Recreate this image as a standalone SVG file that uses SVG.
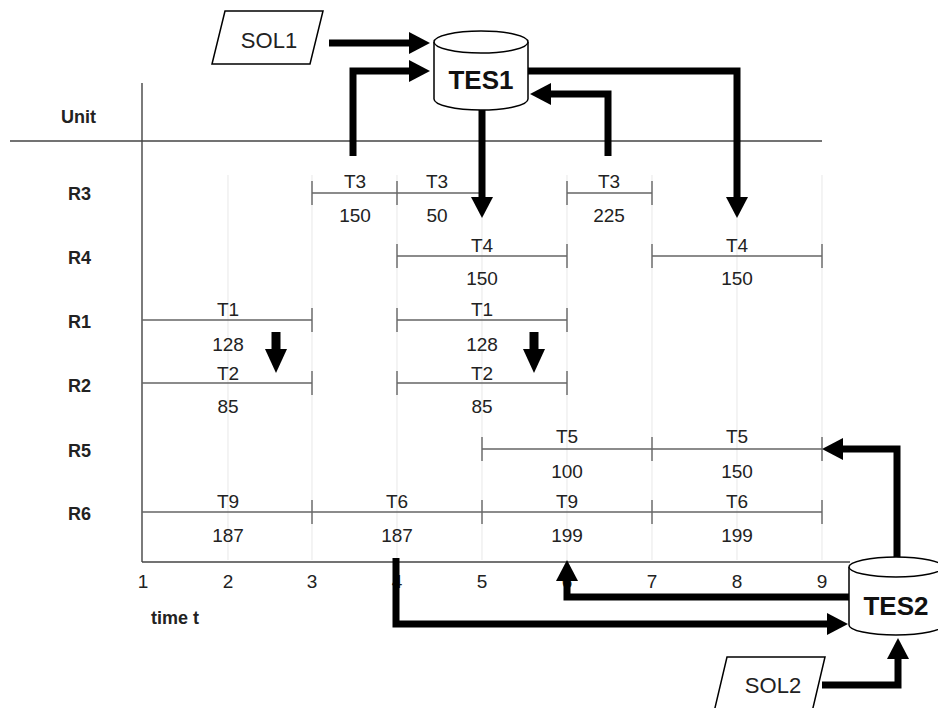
<svg xmlns="http://www.w3.org/2000/svg" width="938" height="708" viewBox="0 0 938 708">
<style>
text{font-family:"Liberation Sans",Arial,sans-serif;fill:#222}
.lbl{font-size:19px;text-anchor:middle}
.row{font-size:18px;font-weight:bold}
.bar{stroke:#666;stroke-width:1.4;fill:none}
.grid{stroke:#ececec;stroke-width:1.2}
.axis{stroke:#444;stroke-width:1.4;fill:none}
.arr{stroke:#000;stroke-width:7;fill:none;stroke-linejoin:miter;marker-end:url(#ah)}
.sarr{stroke:#000;stroke-width:9;fill:none;marker-end:url(#sh)}
.shape{fill:#fff;stroke:#000;stroke-width:1.5}
.big{font-size:26px;font-weight:bold;text-anchor:middle;fill:#111}
.sol{font-size:22px;text-anchor:middle}
</style>
<defs>
<marker id="ah" viewBox="-1 -11 21 22" refX="0" refY="0" markerWidth="21" markerHeight="22" markerUnits="userSpaceOnUse" orient="auto">
<path d="M-1,-11 L20,0 L-1,11 Z" fill="#000"/>
</marker>
<marker id="sh" viewBox="-1 -11 24 22" refX="0" refY="0" markerWidth="24" markerHeight="22" markerUnits="userSpaceOnUse" orient="auto">
<path d="M-1,-11 L23,0 L-1,11 Z" fill="#000"/>
</marker>
</defs>
<rect width="938" height="708" fill="#fff"/>
<g id="grid">
<line class="grid" x1="228" y1="175" x2="228" y2="560"/>
<line class="grid" x1="312" y1="175" x2="312" y2="560"/>
<line class="grid" x1="397" y1="175" x2="397" y2="560"/>
<line class="grid" x1="482" y1="175" x2="482" y2="560"/>
<line class="grid" x1="567" y1="175" x2="567" y2="560"/>
<line class="grid" x1="652" y1="175" x2="652" y2="560"/>
<line class="grid" x1="737" y1="175" x2="737" y2="560"/>
<line class="grid" x1="822" y1="175" x2="822" y2="560"/>
</g>
<g id="axes">
<line class="axis" x1="142" y1="83" x2="142" y2="562"/>
<line class="axis" x1="10" y1="141" x2="822" y2="141"/>
<line class="axis" x1="142" y1="562" x2="850" y2="562"/>
<text class="row" x="61" y="123">Unit</text>
<text class="row" x="68" y="200">R3</text>
<text class="row" x="68" y="264">R4</text>
<text class="row" x="68" y="328">R1</text>
<text class="row" x="68" y="392">R2</text>
<text class="row" x="68" y="457">R5</text>
<text class="row" x="68" y="520">R6</text>
<text class="lbl" x="143" y="588">1</text>
<text class="lbl" x="228" y="588">2</text>
<text class="lbl" x="312" y="588">3</text>
<text class="lbl" x="397" y="588">4</text>
<text class="lbl" x="482" y="588">5</text>
<text class="lbl" x="567" y="588">6</text>
<text class="lbl" x="652" y="588">7</text>
<text class="lbl" x="737" y="588">8</text>
<text class="lbl" x="822" y="588">9</text>
<text class="row" x="151" y="624">time t</text>
</g>
<g id="R3-tasks">
<path class="bar" d="M312,193 H482 M312,181 V205 M397,181 V205 M482,181 V205 M567,193 H652 M567,181 V205 M652,181 V205"/>
<text class="lbl" x="355" y="188">T3</text><text class="lbl" x="355" y="222">150</text>
<text class="lbl" x="437" y="188">T3</text><text class="lbl" x="437" y="222">50</text>
<text class="lbl" x="609" y="188">T3</text><text class="lbl" x="609" y="222">225</text>
</g>
<g id="R4-tasks">
<path class="bar" d="M397,256 H567 M397,244 V268 M567,244 V268 M652,256 H822 M652,244 V268 M822,244 V268"/>
<text class="lbl" x="482" y="252">T4</text><text class="lbl" x="482" y="285">150</text>
<text class="lbl" x="737" y="252">T4</text><text class="lbl" x="737" y="285">150</text>
</g>
<g id="R1-tasks">
<path class="bar" d="M142,320 H312 M312,308 V332 M397,320 H567 M397,308 V332 M567,308 V332"/>
<text class="lbl" x="228" y="316">T1</text><text class="lbl" x="228" y="351">128</text>
<text class="lbl" x="482" y="316">T1</text><text class="lbl" x="482" y="351">128</text>
</g>
<g id="R2-tasks">
<path class="bar" d="M142,383 H312 M312,371 V395 M397,383 H567 M397,371 V395 M567,371 V395"/>
<text class="lbl" x="228" y="380">T2</text><text class="lbl" x="228" y="413">85</text>
<text class="lbl" x="482" y="380">T2</text><text class="lbl" x="482" y="413">85</text>
</g>
<g id="R5-tasks">
<path class="bar" d="M482,449 H822 M482,437 V461 M652,437 V461 M822,437 V461"/>
<text class="lbl" x="567" y="443">T5</text><text class="lbl" x="567" y="478">100</text>
<text class="lbl" x="737" y="443">T5</text><text class="lbl" x="737" y="478">150</text>
</g>
<g id="R6-tasks">
<path class="bar" d="M142,512 H822 M312,500 V524 M482,500 V524 M652,500 V524 M822,500 V524"/>
<text class="lbl" x="228" y="508">T9</text><text class="lbl" x="228" y="542">187</text>
<text class="lbl" x="397" y="508">T6</text><text class="lbl" x="397" y="542">187</text>
<text class="lbl" x="567" y="508">T9</text><text class="lbl" x="567" y="542">199</text>
<text class="lbl" x="737" y="508">T6</text><text class="lbl" x="737" y="542">199</text>
</g>
<g id="SOL1">
<polygon class="shape" points="225,11 323,11 310,64 212,64"/>
<text class="sol" x="269" y="48">SOL1</text>
</g>
<g id="SOL2">
<polygon class="shape" points="727,657 825,657 812,712 714,712"/>
<text class="sol" x="773" y="693">SOL2</text>
</g>
<g id="connectors">
<path class="arr" d="M329,43 H410"/>
<path class="arr" d="M353,156 V71 H410"/>
<path class="arr" d="M608,156 V94 H550"/>
<path class="arr" d="M528,71 H737 V198"/>
<path class="arr" d="M482,108 V198"/>
<path class="sarr" d="M276,332 V350"/>
<path class="sarr" d="M534,332 V350"/>
<path class="arr" d="M897,560 V449 H842"/>
<path class="arr" d="M850,597 H567 V580"/>
<path class="arr" d="M396,558 V624 H828"/>
<path class="arr" d="M822,685 H898 V658"/>
</g>
<g id="TES1">
<path class="shape" d="M434,42 A47,11 0 0 1 528,42 V99 A47,11 0 0 1 434,99 Z"/>
<path class="shape" fill="none" d="M434,42 A47,11 0 0 0 528,42"/>
<text class="big" x="481" y="89">TES1</text>
</g>
<g id="TES2">
<path class="shape" d="M849,567 A47,10 0 0 1 943,567 V625 A47,10 0 0 1 849,625 Z"/>
<path class="shape" fill="none" d="M849,567 A47,10 0 0 0 943,567"/>
<text class="big" x="896" y="615">TES2</text>
</g>
</svg>
